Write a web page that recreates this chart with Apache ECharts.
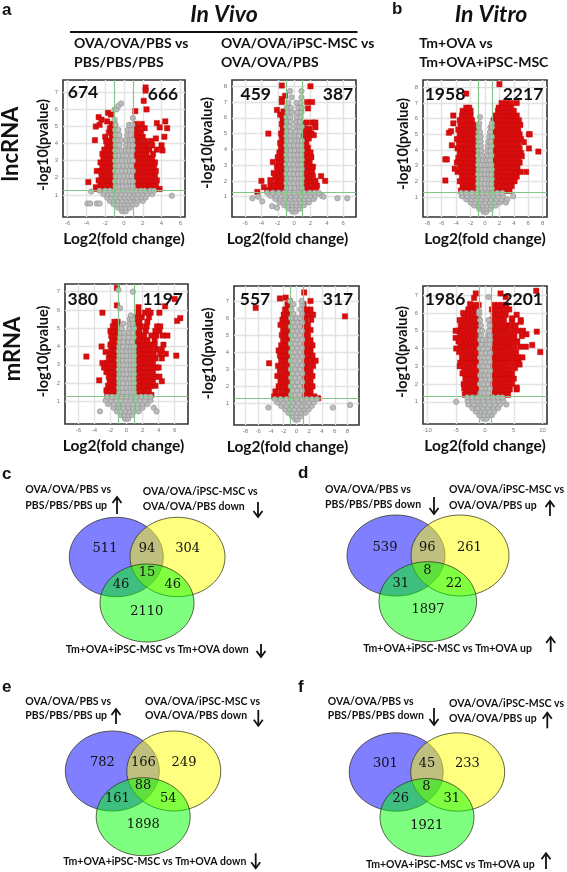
<!DOCTYPE html>
<html><head><meta charset="utf-8">
<style>html,body{margin:0;padding:0;background:#fff}#c{width:567px;height:872px}</style>
<script src="https://cdn.jsdelivr.net/npm/echarts@6/dist/echarts.min.js"></script>
</head><body><div id="c"></div>
<script>
// ---------- volcano data: each row is [y, x, x, x ...] ----------
const lncVivo1Red=[[1.35,-2.9,-2.3,-1.9,-1.5,-1.1,1.1,1.5,2,2.4,2.9,3.3,3.8],[1.6,-2.5,-2.1,-1.6,-1.2,1.2,1.7,2.2,2.6,3,3.4],[1.85,-2.7,-2.2,-1.8,-1.4,-1.05,1.05,1.4,1.9,2.3,2.8,3.2,3.5],[2.1,-2.4,-2,-1.6,-1.15,1.2,1.6,2.1,2.5,2.9,3.3],[2.4,-2.9,-2.5,-2.1,-1.7,-1.3,1.1,1.5,1.9,2.4,2.8,3.1,3.4],[2.65,-2.3,-1.9,-1.5,-1.1,1.3,1.8,2.2,2.7,3.2],[2.9,-2.5,-2.1,-1.7,-1.2,1.1,1.5,2,2.5,2.9,3.3],[3.15,-2.2,-1.8,-1.4,-1.05,1.3,1.7,2.2,2.6,3],[3.4,-2.3,-1.9,-1.5,-1.1,1.1,1.5,2,2.4,3.1],[3.65,-2.1,-1.7,-1.2,1.3,1.7,2.2,2.7,3.5],[3.9,-1.8,-1.4,-1.05,1.1,1.5,2,2.4,3],[4.15,-1.9,-1.5,-1.1,1.3,1.7,2.3,2.9],[4.4,-2,-1.3,-1.05,1.1,1.6,2],[4.65,-1.6,-1.2,1.3,1.8],[4.9,-1.5,-1.1,1.1,1.6,2.2],[5.15,-1.3,-1.05,1.3,1.9],[7.28,2.3],[7.1,2.3],[6.5,2.1],[6,2.4],[5.9,1.2],[5.55,-2.7],[5.4,-2.4],[5.8,-1.7],[5.7,-1.4],[5,-3],[5.1,-2.6],[5.3,-1.8],[5.3,4.4],[5.2,3.5],[4.9,4.6],[4.95,3.8],[4.4,4.3],[4.2,-3.1],[4.3,3.4],[3.9,4],[3.6,4.1],[1.75,-3.8],[1.45,-3]];
const lncVivo1Gray=[[0.05,-0.2,0.2],[0.25,-0.6,-0.2,0.2,0.6],[0.45,-1.1,-0.7,-0.3,0.1,0.5,0.9,1.3],[0.65,-1.5,-1.1,-0.6,-0.2,0.3,0.7,1.1,1.5,2],[0.85,-1.8,-1.3,-0.9,-0.4,0.1,0.5,1,1.4,1.9,2.3],[1.05,-2.2,-1.7,-1.3,-0.8,-0.3,0.2,0.6,1.1,1.5,2,2.5,3],[1.25,-2.6,-2,-1.5,-1,-0.6,-0.1,0.4,0.8,1.3,1.8,2.2,2.8,3.2],[1.5,-0.9,-0.5,-0.1,0.3,0.7,0.95],[1.8,-0.95,-0.55,-0.15,0.25,0.65,0.95],[2.1,-0.9,-0.4,0,0.4,0.8],[2.4,-0.95,-0.6,-0.2,0.2,0.6,0.95],[2.7,-0.9,-0.5,-0.05,0.35,0.75],[3,-0.95,-0.6,-0.2,0.25,0.65,0.95],[3.3,-0.9,-0.5,-0.1,0.3,0.8],[3.6,-0.95,-0.6,-0.25,0.2,0.55,0.9],[3.9,-0.9,-0.5,0.2,0.6,0.95],[4.2,-0.95,-0.6,-0.3,0.25,0.65,0.9],[4.5,-0.9,-0.5,0.35,0.7],[4.8,-0.95,-0.6,0.4,0.8],[5.1,-0.9,0.55,0.9],[5.4,-1],[5.5,0.95],[6,-1,-0.8],[6.2,-0.6],[6.35,-0.3],[1.2,-3.5],[0.5,-3.9,-3.6,-2.9,-2.6],[0.95,5.1]];

const lncVivo2Red=[[1.4,-3.3,-2.8,-2.3,-1.8,-1.3,1.1,1.6,2.1,2.7],[1.7,-2.9,-2.4,-1.9,-1.4,-1.05,1.2,1.7,2.3,2.8],[2,-2.2,-1.7,-1.2,1.05,1.5,2,2.6],[2.3,-2.3,-1.8,-1.3,1.2,1.7,2.3],[2.6,-2,-1.5,-1.05,1.1,1.6,2.2],[2.9,-2.1,-1.6,-1.2,1.2,1.8,2.3],[3.2,-1.9,-1.4,-1.05,1.05,1.5,1.9],[3.5,-2,-1.5,-1.1,1.2,1.7,2.1],[3.8,-1.8,-1.3,1.1,1.5,2],[4.1,-1.6,-1.1,1.2,1.7],[4.4,-1.7,-1.2,1.05,1.5],[4.7,-1.5,-1.05,1.2,1.8],[5,-1.6,-1.1,1.1,1.5,2.1],[5.3,-1.4,-1.05,1.3,1.9],[5.6,-1.5,-1.1,1.15],[5.9,-1.4,-1.1],[6.2,-1.3,-1.7],[6.4,-1.05,-1.3],[8.05,-1.5],[7.4,-1.1],[7.2,-1.5],[7,-1.5],[6.5,-2.1],[5,-3.15],[3.2,-2.6],[2,-4],[1.6,-3.7],[1.3,-4.5],[2.05,-2.9],[2.5,-2.5],[8,2],[7,1.6,2.2],[6.6,1.7],[5.7,1.5,2.2,2.6],[5.4,2.6],[4.9,2.4],[2,3.8],[2.3,3.3]];
const lncVivo2Gray=[[0.05,-0.2,0.2],[0.25,-0.7,-0.2,0.3,0.7],[0.45,-1.2,-0.7,-0.2,0.3,0.8,1.2],[0.65,-1.8,-1.3,-0.7,-0.2,0.3,0.8,1.3,1.8],[0.85,-2.3,-1.7,-1.1,-0.5,0.1,0.7,1.2,1.8,2.4],[1.05,-2.9,-2.2,-1.6,-1,-0.4,0.2,0.8,1.4,2,2.6,3.4],[1.25,-3.3,-2.6,-1.9,-1.2,-0.6,0,0.6,1.2,1.9,2.5,3],[1.55,-0.9,-0.4,0.1,0.6,0.95],[1.85,-0.95,-0.5,0,0.5,0.9],[2.15,-0.9,-0.4,0.15,0.6,0.95],[2.45,-0.95,-0.5,-0.05,0.45,0.9],[2.75,-0.9,-0.35,0.1,0.6,0.95],[3.05,-0.95,-0.5,0,0.5,0.9],[3.35,-0.9,-0.4,0.15,0.6,0.95],[3.65,-0.95,-0.45,0.05,0.5,0.9],[3.95,-0.9,-0.4,0.1,0.6,0.95],[4.25,-0.95,-0.5,0,0.5,0.9],[4.55,-0.9,-0.4,0.2,0.6,0.95],[4.85,-0.95,-0.45,0.1,0.55],[5.15,-0.9,-0.4,0.2,0.7],[5.45,-0.95,-0.5,0.25,0.6,0.95],[5.75,-0.9,-0.4,0.3,0.7],[6.05,-0.95,-0.5,0.3,0.8],[6.35,-0.8,-0.3,0.4,0.9],[6.65,-0.9,-0.4,0.5,0.95],[6.95,-0.7,0.3,0.8],[7.3,-0.3,0.9],[7.7,-0.5,0.9],[0.9,-5.1,5.3,6.5],[1,-4.4],[0.7,-3.9],[0.4,-2.7],[0.3,-2.1],[1,3.6]];

const lncVitroRed=[[1.4,-3.3,-2.7,-2.2,-1.6,-1.1,1.1,1.6,2.2,2.8,3.4],[1.7,-3.1,-2.6,-2,-1.4,1.3,1.9,2.5,3.1,3.7],[2,-3.5,-2.9,-2.3,-1.8,-1.2,1.1,1.7,2.3,2.9,3.5,4.1],[2.3,-3.2,-2.6,-2.1,-1.5,1.4,2,2.6,3.2,3.8,4.4],[2.6,-3.8,-3.1,-2.5,-1.9,-1.3,1.1,1.7,2.3,2.9,3.5,4.2,4.9],[2.9,-3.4,-2.8,-2.2,-1.6,-1.1,1.4,2,2.6,3.2,3.8,4.5],[3.2,-3.9,-3.2,-2.6,-2,-1.4,1.2,1.8,2.4,3,3.6,4.2,4.8],[3.5,-3.7,-3,-2.4,-1.8,-1.2,1.1,1.6,2.2,2.8,3.4,4,4.6],[3.8,-3.5,-2.8,-2.2,-1.6,-1.1,1.4,2,2.6,3.2,3.8,4.4,5],[4.1,-3.8,-3.2,-2.6,-2,-1.4,1.2,1.8,2.4,3,3.6,4.2,4.8],[4.4,-3.6,-2.9,-2.3,-1.7,-1.2,1.1,1.6,2.2,2.8,3.4,4,4.6],[4.7,-3.9,-3.2,-2.6,-2,-1.4,1.4,2,2.6,3.2,3.8,4.4,5],[5,-3.5,-2.9,-2.3,-1.7,-1.2,1.2,1.8,2.4,3,3.6,4.2,4.8],[5.3,-3.7,-3,-2.5,-1.9,-1.4,1.1,1.6,2.2,2.8,3.4,4,4.6],[5.6,-3.4,-2.8,-2.2,-1.6,1.4,2,2.6,3.2,3.8,4.4,4.9],[5.9,-3.5,-3,-2.4,-1.8,1.2,1.8,2.4,3,3.6,4.2,4.7],[6.2,-3.2,-2.6,-2,1.4,2,2.6,3.2,3.8,4.4],[6.5,-3.1,-2.5,-2,1.8,2.4,3,3.5,4],[6.7,-2.6,-2.2,1.9,2.5,3.1,3.6],[7,2.3,3,3.6,4.4],[3.4,-5.5,-5.3],[2.05,-5.5],[5.1,-5],[5.2,-4.7],[6.2,-4.4],[5.7,-4.4],[4.3,-4.6],[2.8,-4.2],[1.4,-3.3],[7.6,-2.6],[8.2,2],[5,6.1,6.2],[3.9,7.4],[4.1,6.1],[2.6,5.7],[3.6,5.1],[4.5,5.4]];
const lncVitroGray=[[0.05,-0.2,0.2],[0.25,-0.8,-0.2,0.3,0.8],[0.45,-1.5,-0.9,-0.3,0.3,0.9,1.5],[0.65,-2,-1.4,-0.7,0,0.7,1.4,2.1,2.9],[0.85,-2.6,-1.9,-1.2,-0.5,0.2,0.9,1.6,2.3,3.1],[1.05,-3.2,-2.5,-1.7,-1,-0.3,0.4,1.1,1.8,2.5],[1.25,-3.3,-2.6,-1.8,-1.1,-0.4,0.3,1,1.7,2.4],[1.55,-0.9,-0.4,0.1,0.6,0.95],[1.85,-0.95,-0.5,0,0.5,0.9],[2.15,-0.9,-0.4,0.15,0.6,0.95],[2.45,-0.95,-0.5,-0.05,0.45,0.9],[2.75,-0.9,-0.35,0.1,0.6,0.95],[3.05,-0.95,-0.5,0,0.5,0.9],[3.35,-0.9,-0.3,0.25,0.7],[3.65,-0.95,-0.4,0.3,0.9],[3.95,-0.9,-0.5,0.35,0.75],[4.25,-0.95,-0.55,0.4,0.9],[4.55,-0.9,-0.6,0.5,0.8],[4.85,-0.95,-0.6,0.6,0.95],[5.15,-0.9,-0.7,0.7],[5.45,-0.85,0.75,0.95],[5.7,-0.8,0.95],[6.1,-0.7],[1.05,3.9]];

const mrnaVivo1Red=[[1.35,-2.4,-1.9,-1.4,-1.05,1.1,1.6,2.1,2.6,3.1],[1.6,-2.5,-2,-1.5,-1.1,1.3,1.8,2.3,2.8],[1.85,-2.3,-1.8,-1.3,1.1,1.6,2.1,2.6,3.1,3.6],[2.1,-2.1,-1.6,-1.1,1.3,1.8,2.3,2.8,3.3,4.4],[2.35,-2.2,-1.7,-1.2,1.1,1.6,2.1,2.6,3.1,3.6,4.1],[2.6,-2.5,-1.9,-1.4,-1.05,1.3,1.8,2.3,2.8,3.3],[2.85,-2.8,-2.3,-1.7,-1.2,1.1,1.6,2.1,2.6,3.1,3.7,4],[3.1,-2.4,-1.9,-1.4,-1.05,1.3,1.8,2.3,2.8,3.3],[3.35,-2.2,-1.7,-1.2,1.1,1.6,2.1,2.6,3.1,3.6,4.4],[3.6,-2.1,-1.6,-1.1,1.3,1.8,2.3,2.8,3.4,4.2,4.9],[3.85,-1.9,-1.4,-1.05,1.1,1.6,2.1,2.6,3,3.7,4.4],[4.1,-2,-1.5,-1.1,1.3,1.8,2.3,2.9,3.5,4.6],[4.35,-1.8,-1.3,1.1,1.6,2.1,2.6,3.5],[4.6,-1.9,-1.4,-1.05,1.3,1.8,2.2,3.1,3.7,4.5,5.1],[4.85,-2,-1.5,-1.1,1.1,1.6,2.4,3.6,4.1],[5.1,-1.7,-1.2,1.2,1.8,2.5,3.8,4.2],[5.35,-1.5,-1.1,1.1,1.6,2.6],[5.6,1.2,1.9,2.8],[5.85,1.5,2.3,3],[7.2,-1.2],[6.25,-1.2],[5.85,-3,4.1],[3.45,-5],[4,-3.1],[2.15,-3.4],[3.7,-2.6],[3.1,-3],[6.6,6],[6.2,4.8],[5.55,6.7],[5.4,6.3],[3.5,6.2],[5.95,2.7],[6.15,1.5]];
const mrnaVivo1Gray=[[0.05,-0.2,0.2],[0.25,-0.7,-0.2,0.3,0.7],[0.45,-1.2,-0.7,-0.1,0.4,0.9,1.5],[0.65,-1.6,-1,-0.4,0.2,0.8,1.4,2,3.4],[0.85,-2.3,-1.6,-1,-0.4,0.2,0.8,1.4,2,2.6],[1.05,-2.6,-1.9,-1.3,-0.7,-0.1,0.5,1.1,1.7,2.3,3],[1.25,-2.4,-1.8,-1.2,-0.6,0,0.6,1.2,1.8,2.4,3],[1.5,-0.9,-0.4,0.1,0.6,0.95],[1.75,-0.95,-0.5,0,0.5,0.9],[2,-0.9,-0.4,0.15,0.6,0.95],[2.25,-0.95,-0.5,-0.05,0.45,0.9],[2.5,-0.9,-0.35,0.1,0.6,0.95],[2.75,-0.95,-0.5,0,0.5,0.9],[3,-0.9,-0.4,0.15,0.6,0.95],[3.25,-0.95,-0.45,0.05,0.5,0.9],[3.5,-0.9,-0.4,0.1,0.6,0.95],[3.75,-0.95,-0.5,0,0.5,0.9],[4,-0.9,-0.4,0.2,0.6,0.95],[4.25,-0.85,-0.4,0.25,0.7],[4.5,-0.8,-0.3,0.3,0.9],[4.75,-0.7,-0.3,0.3,0.8],[5,-0.6,0.35,0.95],[5.25,-0.4,0.4,0.8],[5.5,0.4,0.7],[5.7,0.55],[6.1,-0.8],[7.1,-1],[7,0.8],[0.45,-3.3],[0.45,3.75]];

const mrnaVivo2Red=[[1.4,-3.5,-2.8,-2.1,-1.4,1.2,2,2.8],[1.7,-3.3,-2.4,-1.6,-1.05,1.4,2.2],[2,-2.8,-2,-1.3,1.1,1.8,2.5],[2.3,-2.5,-1.7,-1.1,1.4,2.2],[2.6,-3,-2.2,-1.4,1.1,1.8,2.5],[2.9,-2.6,-1.8,-1.1,1.4,2.2],[3.2,-2.9,-2.1,-1.3,1.1,1.8,2.6],[3.5,-2.4,-1.6,-1.05,1.4,2.2,3],[3.8,-2.6,-1.9,-1.2,1.1,1.8,2.5],[4.1,-2.8,-2.1,-1.4,1.4,2.2],[4.4,-2.4,-1.7,-1.1,1.1,1.8,2.5],[4.7,-2.1,-1.4,1.4,2.2],[5,-2.3,-1.6,-1.05,1.1,1.8],[5.3,-2.1,-1.4,1.4,2.2],[5.6,-2.5,-1.7,-1.1,1.1,1.8],[5.9,-2.2,-1.4,1.4,2.3],[6.2,-2,-1.2,1.1,1.9,2.6],[6.5,-1.8,-1.1,1.5,2.2],[6.8,-1.4,1.1],[7.15,-2.6],[7.2,-1.7],[7,-1.1,2.2],[6.6,-6.4],[3.35,-4.3],[7.5,1.2],[6.1,7.6],[1.3,3.4]];
const mrnaVivo2Gray=[[0.05,-0.2,0.2],[0.25,-0.7,0,0.7],[0.45,-1.3,-0.6,0.1,0.8,1.4],[0.65,-1.8,-1,-0.3,0.4,1.1,1.9],[0.85,-2.4,-1.6,-0.8,0,0.8,1.6,2.4],[0.75,-4.4,5.7],[0.9,8.4],[1.05,-3,-2.1,-1.3,-0.5,0.3,1.1,1.9,2.7],[1.25,-3.4,-2.5,-1.6,-0.8,0,0.8,1.6,2.4,3.2],[1.5,-0.85,-0.2,0.5],[1.75,-0.6,0.1,0.85],[2,-0.9,-0.2,0.5],[2.25,-0.6,0.1,0.9],[2.5,-0.85,-0.2,0.5],[2.75,-0.55,0.15,0.9],[3,-0.9,-0.2,0.55],[3.25,-0.6,0.1,0.85],[3.5,-0.9,-0.2,0.5],[3.75,-0.55,0.15,0.9],[4,-0.85,-0.2,0.55],[4.25,-0.6,0.1,0.85],[4.5,-0.9,-0.2,0.5],[4.75,-0.55,0.15,0.9],[5,-0.85,-0.2,0.55],[5.25,-0.6,0.1,0.85],[5.5,-0.9,-0.2,0.5],[5.75,-0.55,0.15,0.9],[6,-0.85,0,0.55],[6.25,-0.5,0.85],[6.5,-0.8,0.6],[6.8,-0.5,0.9],[7,-1,0.8]];

const mrnaVitroRed=[[1.4,-3.5,-2.8,-2.1,-1.4,1.2,1.9,2.6,3.3,4],[1.7,-3.3,-2.6,-1.9,-1.2,1.5,2.2,2.9,3.6,4.3,5.5],[2,-3.7,-3,-2.3,-1.6,-1.1,1.2,1.9,2.6,3.3,4,4.7],[2.3,-3.4,-2.7,-2,-1.3,1.5,2.2,2.9,3.6,4.3,5],[2.6,-3.9,-3.2,-2.5,-1.8,-1.1,1.2,1.9,2.6,3.3,4,4.7],[2.9,-3.6,-2.9,-2.2,-1.5,1.5,2.2,2.9,3.6,4.3,5.2],[3.2,-4.3,-3.4,-2.7,-2,-1.3,1.2,1.9,2.6,3.3,4,4.9,5.8],[3.5,-4,-3.2,-2.5,-1.8,-1.1,1.5,2.2,2.9,3.6,4.3,5,5.7],[3.8,-4.5,-3.7,-3,-2.3,-1.6,1.2,1.9,2.6,3.3,4,4.7,5.4],[4.1,-4.2,-3.5,-2.8,-2.1,-1.4,1.5,2.2,2.9,3.6,4.3,5.2,6.2],[4.4,-4.6,-3.8,-3.1,-2.4,-1.7,-1.1,1.2,1.9,2.6,3.3,4,4.8,5.6],[4.7,-4.3,-3.6,-2.9,-2.2,-1.5,1.5,2.2,2.9,3.6,4.3,5.1,6.4],[5,-4.6,-3.9,-3.2,-2.5,-1.8,-1.1,1.2,1.9,2.6,3.3,4,4.9,5.8,6.6],[5.3,-4.2,-3.5,-2.8,-2.1,-1.4,1.5,2.2,2.9,3.6,4.4,5.3],[5.6,-3.8,-3.1,-2.4,-1.7,-1.1,1.2,1.9,2.6,3.3,4.7,6.2],[5.9,-3.6,-2.9,-2.2,-1.5,1.5,2.2,2.9,3.6,5.5],[6.2,-2.9,-2.2,-1.5,1.2,1.9,2.6,3.3,4.2],[6.45,-2.4,-1.7,-1.1,1.6,2.3,3,3.7],[6.85,-1.9],[7.1,-1.6,2.7],[6.5,-2.6],[4,-5],[5,-5.1],[4.6,-5.1],[4.4,-4.4],[5.6,-4.4],[6,-3.8],[3,-4.4],[1.75,-3.6],[7.25,8.9],[4.95,9],[4.2,8.2],[3.8,9.6],[4.1,7.1],[4.8,7.2],[3.5,6.5],[1.8,5.5],[3.1,6],[5.7,4.7],[5.5,6.2],[6.9,3.6]];
const mrnaVitroGray=[[0.05,-0.3,0.3],[0.25,-1,-0.2,0.6,1.2],[0.45,-1.6,-0.8,0,0.8,1.6],[0.65,-2.2,-1.3,-0.4,0.5,1.4,2.3],[0.85,-2.9,-1.9,-1,-0.1,0.8,1.7,2.6,3.7],[1.05,-3,-2.1,-1.2,-0.3,0.6,1.5,2.4,3.2],[1,-5],[1.25,-3.1,-2.2,-1.3,-0.4,0.5,1.4,2.3,3],[1.5,-0.8,-0.1,0.6],[1.75,-0.5,0.2,0.85],[2,-0.9,-0.2,0.5],[2.25,-0.6,0.1,0.8],[2.5,-0.85,-0.1,0.6],[2.75,-0.5,0.2,0.9],[3,-0.9,-0.2,0.5],[3.25,-0.6,0.1,0.8],[3.5,-0.85,-0.1,0.6],[3.75,-0.5,0.2,0.9],[4,-0.9,-0.3,0.5],[4.25,-0.6,0.3,0.8],[4.5,-0.85,-0.4,0.4,0.9],[4.75,-0.7,0.5,0.85],[5,-0.9,-0.5,0.7],[5.3,-0.7,0.8],[5.6,0.6,-0.85],[5.95,-1],[6.1,-1],[6.9,0.6]];

// ---------- axis ticks ----------
const ticksEven6=[-6,-4,-2,0,2,4,6];
const ticksEven8=[-8,-6,-4,-2,0,2,4,6,8];
const ticksTen=[-10,-5,0,5,10];
const yTo7=[1,2,3,4,5,6,7];
const yTo8=[1,2,3,4,5,6,7,8];
const foldCut=[-1,1];
const pCut=[1.3];

// ---------- printed counts ----------
const countsVolcano=[[674,666],[459,387],[1958,2217],[380,1197],[557,317],[1986,2201]];
const vennC=[511,94,304,15,46,46,2110];
const vennD=[539,96,261,8,31,22,1897];
const vennE=[782,166,249,88,161,54,1898];
const vennF=[301,45,233,8,26,31,1921];

// ---------- layout of the six volcano panels ----------
const panels=[
 {red:lncVivo1Red,gray:lncVivo1Gray,box:[63,80,185,217],xr:[-6.5,6.5],yr:[-0.29,7.72],xt:ticksEven6,yt:yTo7,counts:[[83,92],[163,94]],yName:[9,7],xPad:0},
 {red:lncVivo2Red,gray:lncVivo2Gray,box:[232,80,356,217],xr:[-7.6,7.57],yr:[-0.29,8.4],xt:ticksEven6,yt:yTo8,counts:[[255.7,94],[338,94]],yName:[17,11],xPad:13},
 {red:lncVitroRed,gray:lncVitroGray,box:[423,80,547,217],xr:[-8.6,8.6],yr:[-0.28,8.47],xt:ticksEven8,yt:yTo8,counts:[[445,94],[523,94]],yName:[12,9],xPad:0},
 {red:mrnaVivo1Red,gray:mrnaVivo1Gray,box:[65,284,188,424],xr:[-7.66,7.66],yr:[-0.24,7.42],xt:ticksEven6,yt:yTo7,counts:[[82.7,299],[162.7,299]],yName:[14,5],xPad:6},
 {red:mrnaVivo2Red,gray:mrnaVivo2Gray,box:[234,286,359,425],xr:[-9.8,9.8],yr:[-0.27,7.88],xt:ticksEven8,yt:yTo7,counts:[[255,299.7],[338,299.7]],yName:[18,4],xPad:18},
 {red:mrnaVitroRed,gray:mrnaVitroGray,box:[423,286,547,424],xr:[-10.77,10.77],yr:[-0.25,7.52],xt:ticksTen,yt:yTo7,counts:[[445,299],[522.7,299]],yName:[13,6],xPad:0}
];

const SANS='Lato, "Open Sans", sans-serif';
const flat=rows=>rows.flatMap(r=>r.slice(1).map(x=>[x,r[0]]));
const grid=[],xAxis=[],yAxis=[],series=[],graphic=[];

function txt(text,x,y,size,o={}){
 graphic.push({type:'text',x,y,rotation:o.rot||0,silent:true,z:10,style:{text:String(text),
   font:`${o.italic?'italic ':''}${o.weight||'bold'} ${size}px ${o.family||SANS}`,fill:o.fill||'#111',
   align:o.align||'left',verticalAlign:'middle'}});
}
function arrow(x,y0,y1,up){
 const tip=up?y0:y1, d=up?1:-1;
 graphic.push({type:'line',silent:true,z:10,shape:{x1:x,y1:y0,x2:x,y2:y1},style:{stroke:'#111',lineWidth:1.8}});
 graphic.push({type:'polyline',silent:true,z:10,shape:{points:[[x-4.5,tip+6*d],[x,tip],[x+4.5,tip+6*d]]},style:{stroke:'#111',lineWidth:1.8,fill:null}});
}

panels.forEach((p,i)=>{
 const [x0,y0,x1,y1]=p.box;
 grid.push({left:x0,top:y0,width:x1-x0,height:y1-y0,show:true,borderColor:'#333',borderWidth:1.6,backgroundColor:'#fff',z:0});
 xAxis.push({type:'value',gridIndex:i,min:p.xr[0],max:p.xr[1],name:'Log2(fold change)',nameLocation:'middle',nameGap:14,
   nameTextStyle:{fontFamily:SANS,fontWeight:'bold',fontSize:15.5,color:'#111',padding:[0,p.xPad,0,0]},
   axisLine:{show:false},splitLine:{show:false},
   axisTick:{show:true,length:2,customValues:p.xt,lineStyle:{color:'#888',width:0.6}},
   axisLabel:{customValues:p.xt,fontSize:6,color:'#777',margin:3,fontFamily:'Liberation Sans'}});
 yAxis.push({type:'value',gridIndex:i,min:p.yr[0],max:p.yr[1],name:'-log10(pvalue)',nameLocation:'middle',nameRotate:90,nameGap:p.yName[0],
   nameTextStyle:{fontFamily:SANS,fontWeight:'bold',fontSize:14.5,color:'#111',padding:[0,0,0,p.yName[1]]},
   axisLine:{show:false},splitLine:{show:false},
   axisTick:{show:true,length:2,customValues:p.yt,lineStyle:{color:'#888',width:0.6}},
   axisLabel:{customValues:p.yt,fontSize:6,color:'#777',margin:5,fontFamily:'Liberation Sans'}});
 series.push({type:'scatter',xAxisIndex:i,yAxisIndex:i,z:2,silent:true,animation:false,symbol:'rect',symbolSize:5.4,
   data:flat(p.red),itemStyle:{color:'#d90d0d',borderColor:'#c00a0a',borderWidth:0.4,opacity:1},
   markLine:{silent:true,animation:false,symbol:'none',z:1,label:{show:false},lineStyle:{color:'#e2e2e2',width:1.4,type:'solid'},
     data:[...p.xt.map(v=>({xAxis:v})),...p.yt.map(v=>({yAxis:v}))]}});
 series.push({type:'scatter',xAxisIndex:i,yAxisIndex:i,z:3,silent:true,animation:false,symbol:'circle',symbolSize:5.4,
   data:flat(p.gray),itemStyle:{color:'#bcbcbc',borderColor:'#8d8d8d',borderWidth:0.6,opacity:1},
   markLine:{silent:true,animation:false,symbol:'none',z:5,label:{show:false},lineStyle:{color:'#85c585',width:1.2,type:'solid'},
     data:[...foldCut.map(v=>({xAxis:v})),...pCut.map(v=>({yAxis:v}))]}});
 txt(countsVolcano[i][0],p.counts[0][0],p.counts[0][1],17.5,{align:'center'});
 txt(countsVolcano[i][1],p.counts[1][0],p.counts[1][1],17.5,{align:'center'});
});

// ---------- header ----------
txt('a',2,10,17,{family:'Liberation Sans'});
txt('b',392,9,17,{family:'Liberation Sans'});
txt('In Vivo',224,14.5,23,{align:'center',italic:true});
txt('In Vitro',491,14.5,23,{align:'center',italic:true});
graphic.push({type:'line',silent:true,shape:{x1:70,y1:32,x2:357.5,y2:32},style:{stroke:'#111',lineWidth:2}});
txt('OVA/OVA/PBS vs',74,43.7,14);
txt('PBS/PBS/PBS',74,62.3,14);
txt('OVA/OVA/iPSC-MSC vs',221,43.7,14);
txt('OVA/OVA/PBS',221,62.3,14);
txt('Tm+OVA vs',419.3,43.7,14);
txt('Tm+OVA+iPSC-MSC',419.3,62.3,14);
txt('lncRNA',10.5,144,22,{align:'center',rot:Math.PI/2});
txt('mRNA',12.5,349,22,{align:'center',rot:Math.PI/2});

// ---------- venn diagrams ----------
const venns=[
 {tag:'c',tagPos:[2,474],v:vennC,
  e:[[116.3,557,47,39.7],[177.5,557,47.5,39.7],[147,603,47,39]],
  n:[[105,549],[147,549],[187.7,549],[147,572.3],[121,584.7],[172.7,584.7],[146.7,611.7]],
  a:['OVA/OVA/PBS vs','PBS/PBS/PBS up',25.3,490,505.3],arA:[117,497,514,true],
  b:['OVA/OVA/iPSC-MSC vs','OVA/OVA/PBS down',142.7,492,507],arB:[258,502,517,false],
  c:['Tm+OVA+iPSC-MSC vs Tm+OVA down',65.7,650],arC:[261,644,657,false]},
 {tag:'d',tagPos:[298,473],v:vennD,
  e:[[396,555.5,49,40.5],[460,555.5,49,40.5],[427.8,601.7,48.8,40]],
  n:[[385,547.3],[427.3,547.3],[469.3,547.3],[427.3,570.7],[400.7,583.3],[454,583.3],[428,610]],
  a:['OVA/OVA/PBS vs','PBS/PBS/PBS down',325,490,505],arA:[434,497,514,false],
  b:['OVA/OVA/iPSC-MSC vs','OVA/OVA/PBS up',449,490,505.7],arB:[550,501,516,true],
  c:['Tm+OVA+iPSC-MSC vs Tm+OVA up',363.3,648.3],arC:[550.7,637,652,true]},
 {tag:'e',tagPos:[2,687.7],v:vennE,
  e:[[112.3,771,47,40],[173.8,771,47,40],[143.2,816.7,47,39]],
  n:[[102.3,762.7],[143.3,762.7],[184,762.7],[143,785.7],[117.3,798.3],[168.3,798.3],[143.3,825]],
  a:['OVA/OVA/PBS vs','PBS/PBS/PBS up',25.3,701.7,715.7],arA:[116,709,724,true],
  b:['OVA/OVA/iPSC-MSC vs','OVA/OVA/PBS down',145,701.7,716],arB:[258.3,710,725.7,false],
  c:['Tm+OVA+iPSC-MSC vs Tm+OVA down',63.3,861.7],arC:[255.7,853.3,868.3,false]},
 {tag:'f',tagPos:[298,687],v:vennF,
  e:[[396.2,772,47,39.2],[457.7,772,47,39.2],[427,817.5,47,39]],
  n:[[385.3,763.7],[427,763.7],[467.3,763.7],[426.3,786.7],[400.7,799],[451.7,799],[426.7,825.7]],
  a:['OVA/OVA/PBS vs','PBS/PBS/PBS down',327.7,701.7,716],arA:[434,708,725,false],
  b:['OVA/OVA/iPSC-MSC vs','OVA/OVA/PBS up',449,704,718.3],arB:[547.3,712.7,728.3,true],
  c:['Tm+OVA+iPSC-MSC vs Tm+OVA up',366,864.3],arC:[546,853.3,869,true]}
];
const vennFill=['rgba(0,0,255,0.5)','rgba(255,255,0,0.5)','rgba(0,255,0,0.5)'];
venns.forEach(d=>{
 d.e.forEach((e,k)=>graphic.push({type:'ellipse',silent:true,z:5,shape:{cx:e[0],cy:e[1],rx:e[2],ry:e[3]},
   style:{fill:vennFill[k],stroke:'rgba(50,50,30,0.75)',lineWidth:1}}));
 d.v.forEach((val,k)=>txt(val,d.n[k][0],d.n[k][1],13,{align:'center',family:'"DejaVu Serif"',weight:'normal',fill:'#111'}));
 txt(d.tag,d.tagPos[0],d.tagPos[1],17,{family:'Liberation Sans'});
 txt(d.a[0],d.a[2],d.a[3],10.5); txt(d.a[1],d.a[2],d.a[4],10.5);
 txt(d.b[0],d.b[2],d.b[3],10.5); txt(d.b[1],d.b[2],d.b[4],10.5);
 txt(d.c[0],d.c[1],d.c[2],10.5);
 [d.arA,d.arB,d.arC].forEach(a=>arrow(a[0],a[1],a[2],a[3]));
});

echarts.init(document.getElementById('c'),null,{renderer:'canvas'}).setOption({
 animation:false,backgroundColor:'#fff',grid,xAxis,yAxis,series,graphic
});
</script></body></html>
